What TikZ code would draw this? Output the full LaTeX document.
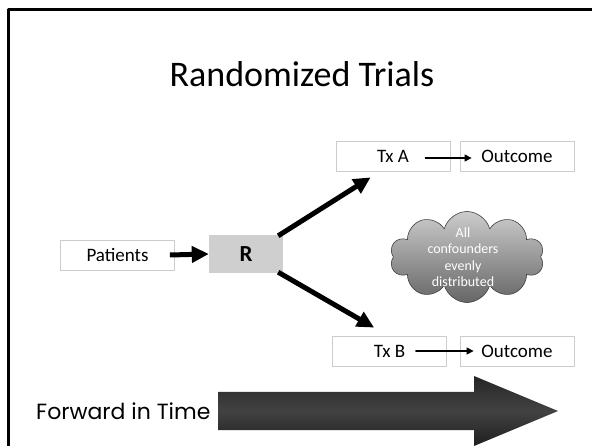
\documentclass[tikz,border=0pt]{standalone}
\usepackage{fontspec}
\setmainfont{Carlito}
\newfontfamily\handfont{Poppins}
\usetikzlibrary{arrows.meta,shapes.symbols}

\begin{document}
\begin{tikzpicture}[x=1pt,y=-1pt,line cap=round,line join=round,
  box/.style={draw=black!20,line width=0.8pt,minimum width=114pt,minimum height=30pt,inner sep=0pt,font=\fontsize{19}{22}\selectfont},
  fat/.style={line width=5pt,line cap=butt,-{Triangle[length=17pt,width=16pt]}},
  slim/.style={line width=1.4pt,-{Triangle[length=7pt,width=7pt]}}]
\useasboundingbox (0,0) rectangle (592,446);
\fill[white] (0,0) rectangle (592,446);
\draw[line width=3pt,line cap=butt] (592,9.5) -- (8,9.5) -- (8,446);
\node[font=\fontsize{36}{43}\selectfont] (title) at (302,74) {Randomized Trials};
% boxes
\node[box] (pat) at (117.5,255) {Patients};
\node[fill=black!19,minimum width=74pt,minimum height=38pt,inner sep=0pt,font=\fontsize{23}{26}\selectfont\bfseries] (rbox) at (246,254) {R};
\node[box] (txa) at (393,156) {Tx A};
\node[box] (outa) at (517,156) {Outcome};
\node[box] (txb) at (389.5,351) {Tx B};
\node[box] (outb) at (517,351) {Outcome};
% arrows
\draw[fat] ([shift={(-5,0)}]pat.east) -- (rbox.west);
\draw[fat] ([shift={(-5,1)}]rbox.north east) -- ([shift={(35,6)}]txa.south west);
\draw[fat] ([shift={(-5,-1)}]rbox.south east) -- ([shift={(42,-8)}]txb.north west);
\draw[slim] ([shift={(-25,2)}]txa.east) -- ([shift={(12,2)}]outa.west);
\draw[slim] ([shift={(-31,0)}]txb.east) -- ([shift={(14,0)}]outb.west);
% cloud
\node[cloud,cloud puffs=10,aspect=1.65,draw=black!75,line width=0.6pt,top color=black!20,bottom color=black!60,
  minimum width=154pt,minimum height=91pt,inner sep=0pt] (conf) at (467,257) {};
\node[align=center,text=white,font=\fontsize{14}{16.5}\selectfont] (conftext) at (463,257) {All\\confounders\\evenly\\distributed};
% time arrow
\shade[top color=black!85,bottom color=black!88,middle color=black!74]
  (218,392) -- (474,392) -- (474,376) -- (558,411) -- (474,446) -- (474,430) -- (218,430) -- cycle;
\node[anchor=west,inner sep=0pt,font=\handfont\fontsize{22}{25}\selectfont] (time) at (36,411) {Forward in Time};
\end{tikzpicture}
\end{document}
